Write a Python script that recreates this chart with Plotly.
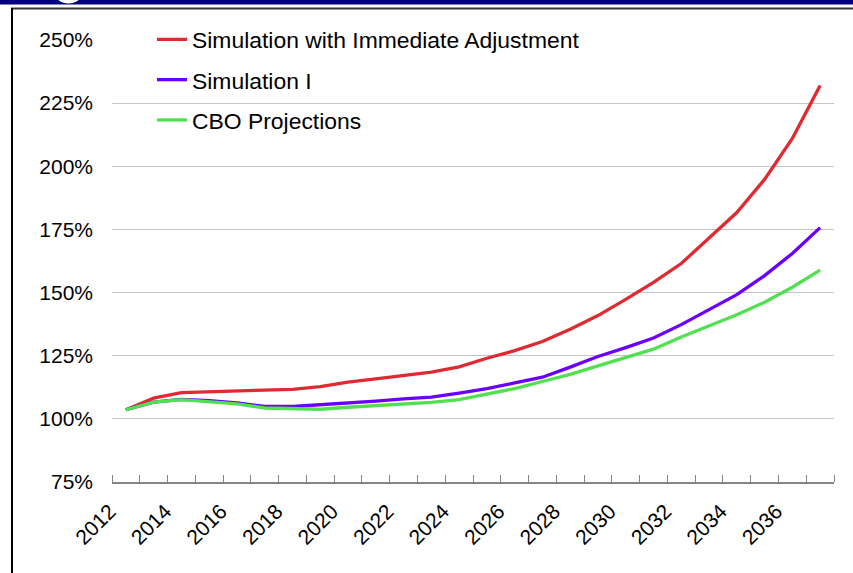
import plotly.graph_objects as go

years = list(range(2012, 2038))
series_names = ["Simulation with Immediate Adjustment", "Simulation I", "CBO Projections"]
immediate_adj = [103.6, 108.2, 110.4, 110.8, 111.2, 111.3, 111.7, 112.8, 114.5, 115.8,
                 117.2, 118.5, 120.6, 124.0, 127.0, 130.6, 135.5, 140.9, 147.3, 154.0,
                 161.5, 171.7, 181.7, 194.8, 211.0, 232.0]
simulation_1 = [103.6, 106.6, 107.7, 107.2, 106.3, 104.9, 104.9, 105.5, 106.3, 107.0,
                107.9, 108.6, 110.2, 112.0, 114.2, 116.5, 120.5, 124.7, 128.2, 132.0,
                137.3, 143.3, 149.2, 156.7, 165.5, 175.7]
cbo = [103.6, 106.6, 107.6, 106.8, 105.9, 104.3, 103.9, 103.8, 104.6, 105.2,
       106.0, 106.5, 107.6, 109.9, 112.0, 114.8, 117.6, 121.0, 124.3, 127.6,
       132.4, 136.8, 141.2, 146.2, 152.1, 158.9]
x_labels = [str(y) for y in range(2012, 2038, 2)]
y_ticks = [75, 100, 125, 150, 175, 200, 225, 250]

colors = ["#DE2A30", "#6A00FF", "#50E050"]
FONT = "Liberation Sans, Arial, sans-serif"

fig = go.Figure()
for name, vals, col in zip(series_names, [immediate_adj, simulation_1, cbo], colors):
    fig.add_trace(go.Scatter(x=years, y=vals, mode="lines", name=name,
                             legendgroup=name,
                             line=dict(color=col, width=3.3)))

W, H = 853, 573
L, R, T, B = 112, 19, 40, 91
pw, ph = W - L - R, H - T - B

def px(x):
    return (x - L) / pw

def py(y):
    return (H - B - y) / ph

shapes = [
    # white box behind legend (hides gridlines)
    dict(type="rect", xref="paper", yref="paper", x0=px(118), x1=px(601), y0=py(140), y1=py(20),
         fillcolor="white", line=dict(width=0), layer="between"),
    # top navy band
    dict(type="rect", xref="paper", yref="paper", x0=px(-2), x1=px(855), y0=py(4.5), y1=py(-2),
         fillcolor="#000080", line=dict(width=0), layer="above"),
    dict(type="circle", xref="paper", yref="paper", x0=px(57), x1=px(80), y0=py(3.5), y1=py(-10),
         fillcolor="white", line=dict(width=0), layer="above"),
    # frame lines
    dict(type="line", xref="paper", yref="paper", x0=px(11), x1=px(855), y0=py(8.5), y1=py(8.5),
         line=dict(color="#333333", width=2), layer="above"),
    dict(type="line", xref="paper", yref="paper", x0=px(12), x1=px(12), y0=py(8), y1=py(575),
         line=dict(color="#000000", width=2), layer="above"),
]

fig.update_layout(
    width=W, height=H,
    margin=dict(l=L, r=R, t=T, b=B),
    paper_bgcolor="white", plot_bgcolor="white",
    font=dict(family=FONT, color="black"),
    showlegend=True,
    legend=dict(x=px(152), y=py(18), xanchor="left", yanchor="top",
                bgcolor="rgba(0,0,0,0)", font=dict(size=22.9, family=FONT, color="black"),
                tracegroupgap=7.5, traceorder="grouped"),
    shapes=shapes,
    xaxis=dict(range=[2011.5, 2037.5], tickmode="array",
               tickvals=[int(v) for v in x_labels], ticktext=x_labels,
               tickangle=-45, tickfont=dict(size=21, family=FONT, color="black"),
               ticks="", showgrid=False, zeroline=False,
               ticklabelstandoff=7, ticklabelshift=-16,
               showline=True, linecolor="#858585", linewidth=1.5,
               minor=dict(tickmode="array", tickvals=[y - 0.5 for y in range(2012, 2039)],
                          ticks="inside", ticklen=7, tickcolor="#858585", tickwidth=1.3,
                          showgrid=False)),
    yaxis=dict(range=[75, 250], tickmode="array", tickvals=y_ticks,
               ticktext=[f"{v}%" for v in y_ticks],
               tickfont=dict(size=21, family=FONT, color="black"),
               showgrid=True, gridcolor="#C4C4C4", gridwidth=1.3,
               zeroline=False, showline=False, ticks="", ticklabelstandoff=18),
)

fig.write_html("out.html", config={"displayModeBar": False},
               post_script="document.body.style.margin='0';document.body.style.overflow='hidden';")
